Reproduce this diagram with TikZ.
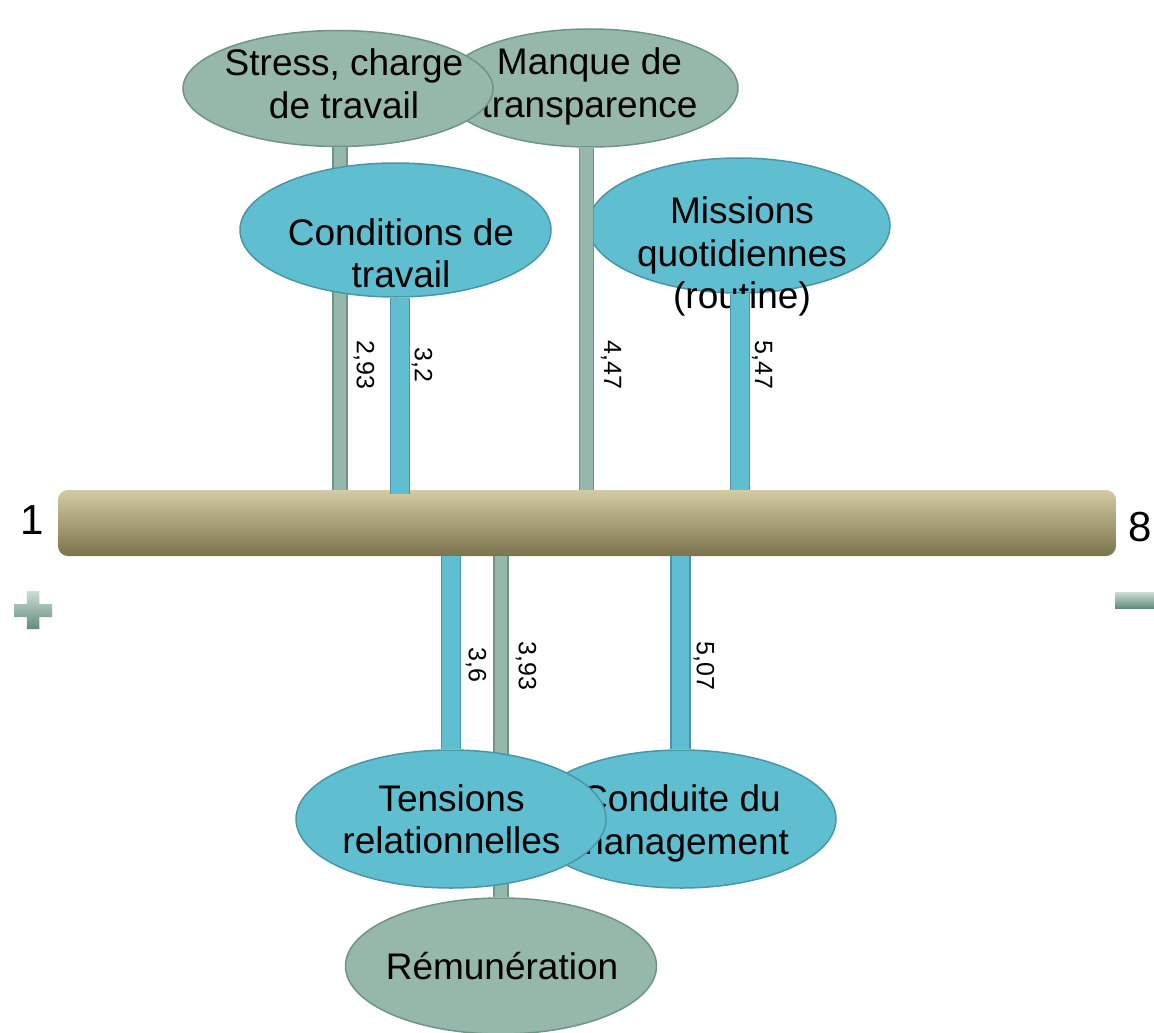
\documentclass[tikz,border=0pt]{standalone}
\usepackage{fontspec}
\setmainfont{Liberation Sans}
\usetikzlibrary{shapes.geometric}

\definecolor{sageFill}{RGB}{150,184,170}
\definecolor{sageLine}{RGB}{110,148,134}
\definecolor{aquaFill}{RGB}{95,190,208}
\definecolor{aquaLine}{RGB}{72,150,166}
\definecolor{barTop}{RGB}{210,203,164}
\definecolor{barMid}{RGB}{180,168,111}
\definecolor{barBot}{RGB}{122,115,76}
\definecolor{signTop}{RGB}{202,222,214}
\definecolor{signBot}{RGB}{98,140,125}

\begin{document}
\begin{tikzpicture}[x=1pt,y=-1pt,
  sage/.style={ellipse, draw=sageLine, fill=sageFill, line width=1.5pt, inner sep=0pt},
  aqua/.style={ellipse, draw=aquaLine, fill=aquaFill, line width=1.5pt, inner sep=0pt},
  caption/.style={align=center, inner sep=0pt, font=\fontsize{37}{42.5}\selectfont},
  score/.style={rotate=-90, inner sep=0pt, font=\fontsize{25}{30}\selectfont},
  endnum/.style={inner sep=0pt, font=\fontsize{42}{48}\selectfont},
  sagestick/.style={draw=sageLine, line width=1.5pt, double=sageFill, double distance=12.5pt},
  aquastick/.style={draw=aquaLine, line width=1.5pt, double=aquaFill, double distance=17.5pt},
  scale bar/.style={rectangle, rounded corners=10pt, inner sep=0pt,
    top color=barTop, middle color=barMid, bottom color=barBot,
    minimum width=1058pt, minimum height=66pt},
]
\useasboundingbox (0,0) rectangle (1154,1033);

% horizontal scale from 1 to 8
\node[scale bar] (bar) at (587,523) {};
\node[endnum] (low) at (32,520) {1};
\node[endnum] (high) at (1140,527) {8};

% plus and minus marks under the ends of the scale
\shade[top color=signTop, bottom color=signBot]
  (26.75,591) -- (39.25,591) -- (39.25,604) -- (52,604) -- (52,617) -- (39.25,617)
  -- (39.25,629) -- (26.75,629) -- (26.75,617) -- (14,617) -- (14,604) -- (26.75,604) -- cycle;
\shade[top color=signTop, bottom color=signBot] (1115,592) rectangle (1154,608);

% upper themes
\node[sage, minimum width=296pt, minimum height=118pt] (manque) at (590,88) {};
\node[caption] (manqueT) at (589.5,86.5) {Manque de\\transparence};
\node[sage, minimum width=310pt, minimum height=116pt] (stress) at (338,88.5) {};
\node[caption] (stressT) at (344,84) {Stress, charge\\de travail};
\node[aqua, minimum width=302pt, minimum height=135pt] (missions) at (739,225.5) {};
\node[caption] (missionsT) at (742,256.5) {Missions\\quotidiennes\\(routine)};

\coordinate (s1) at ([xshift=2pt]stress.south);
\coordinate (s2) at ([xshift=-3.5pt]manque.south);
\draw[sagestick] (s1) -- (s1 |- bar.north);
\draw[sagestick] (s2) -- (s2 |- bar.north);

\node[aqua, minimum width=311pt, minimum height=134pt] (cond) at (395.5,230) {};
\node[caption] (condT) at (401,253.5) {Conditions de\\travail};

\coordinate (a1) at ([xshift=4.5pt]cond.south);
\coordinate (a1e) at (a1 |- bar.north);
\draw[aquastick] (a1) -- ([yshift=-4pt]a1e);
\coordinate (a2) at ([xshift=1pt]missions.south);
\draw[aquastick] (a2) -- (a2 |- bar.north);

% lower themes
\node[sage, minimum width=311pt, minimum height=136pt] (remun) at (501,966) {};
\node[caption] (remunT) at (502,966.5) {Rémunération};
\node[aqua, minimum width=309pt, minimum height=138pt] (conduite) at (681.5,819) {};
\node[caption] (conduiteT) at (681,823.5) {Conduite du\\management};

\draw[sagestick] (bar.south -| remun.north) -- (remun.north);
\draw[aquastick] ([xshift=-1pt]bar.south -| conduite.north) -- ([xshift=-1pt]conduite.north);

\node[aqua, minimum width=310pt, minimum height=138pt] (tensions) at (451,819) {};
\node[caption] (tensionsT) at (451.5,819.5) {Tensions\\relationnelles};
\draw[aquastick] (bar.south -| tensions.north) -- (tensions.north);

% scores
\node[score] (v1) at (364,365) {2,93};
\node[score] (v2) at (422,365) {3,2};
\node[score] (v3) at (611,365) {4,47};
\node[score] (v4) at (762,365) {5,47};
\node[score] (v5) at (476,665) {3,6};
\node[score] (v6) at (526,666) {3,93};
\node[score] (v7) at (704,666) {5,07};
\end{tikzpicture}
\end{document}
